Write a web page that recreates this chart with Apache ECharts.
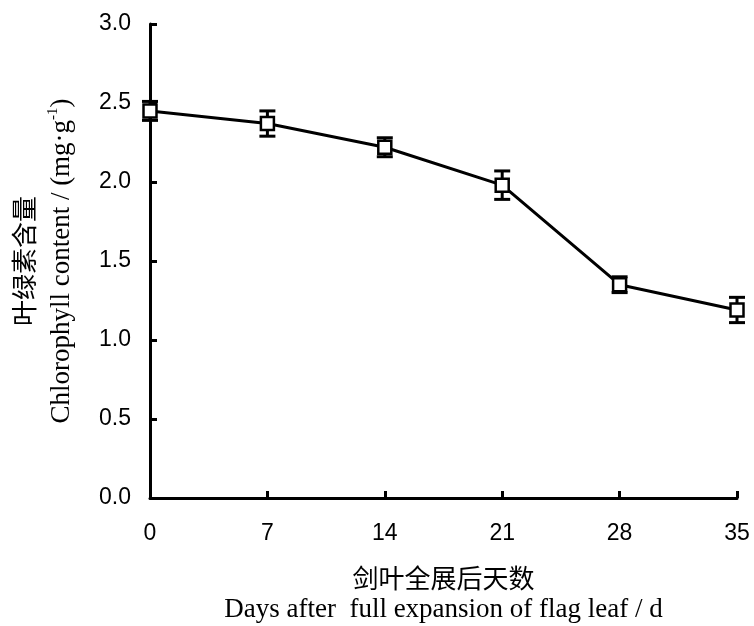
<!DOCTYPE html>
<html><head><meta charset="utf-8">
<script src="https://cdn.jsdelivr.net/npm/echarts@6/dist/echarts.min.js"></script>
<style>html,body{margin:0;padding:0;background:#fff}#c{width:754px;height:626px}</style>
</head><body><div id="c"></div>
<script>
const days = [0, 7, 14, 21, 28, 35];
const chlorophyll = [2.45, 2.37, 2.22, 1.98, 1.35, 1.19];
const errors = [0.06, 0.08, 0.06, 0.09, 0.05, 0.08];
const yTicks = ['0.0','0.5','1.0','1.5','2.0','2.5','3.0'];

const lineData = days.map((d, i) => [d, chlorophyll[i]]);
const errData = days.map((d, i) => [d, chlorophyll[i] - errors[i], chlorophyll[i] + errors[i]]);

const chart = echarts.init(document.getElementById('c'));
chart.setOption({
  animation: false,
  backgroundColor: '#fff',
  grid: { left: 150, right: 17, top: 24, bottom: 128, containLabel: false, outerBoundsMode: 'none' },
  xAxis: {
    type: 'value', min: 0, max: 35, interval: 7,
    axisLine: { lineStyle: { color: '#000', width: 3 } },
    axisTick: { inside: true, length: 7, lineStyle: { color: '#000', width: 3 } },
    axisLabel: { color: '#000', fontFamily: 'Liberation Sans', fontSize: 23, margin: 24 },
    splitLine: { show: false },
    name: '{cn|剑叶全展后天数}\n{en|Days after  full expansion of flag leaf / d}',
    nameLocation: 'middle', nameGap: 64,
    nameTextStyle: {
      rich: {
        cn: { fontFamily: 'Noto Sans CJK SC', fontSize: 26, color: '#000', lineHeight: 32 },
        en: { fontFamily: 'Liberation Serif', fontSize: 27, color: '#000', lineHeight: 32 }
      }
    }
  },
  yAxis: {
    type: 'value', min: 0, max: 3, interval: 0.5,
    axisLine: { show: true, lineStyle: { color: '#000', width: 3 } },
    axisTick: { show: true, inside: true, length: 7, lineStyle: { color: '#000', width: 3 } },
    axisLabel: { color: '#000', fontFamily: 'Liberation Sans', fontSize: 23, margin: 19,
      formatter: v => yTicks[Math.round(v / 0.5)] },
    splitLine: { show: false },
    name: '{cn|叶绿素含量}\n{en|Chlorophyll content / (mg·g}{sup|-1}{en|)}',
    nameLocation: 'middle', nameGap: 70, nameRotate: 90,
    nameTextStyle: {
      rich: {
        cn: { fontFamily: 'Noto Sans CJK SC', fontSize: 26, color: '#000', lineHeight: 37 },
        en: { fontFamily: 'Liberation Serif', fontSize: 27, color: '#000', lineHeight: 37 },
        sup: { fontFamily: 'Liberation Serif', fontSize: 15, color: '#000', padding: [0, 0, 16, 0] }
      }
    }
  },
  series: [
    {
      type: 'custom',
      data: errData,
      z: 3,
      renderItem: function (params, api) {
        const x = api.value(0);
        const lo = api.coord([x, api.value(1)]);
        const hi = api.coord([x, api.value(2)]);
        const w = 8;
        const st = { stroke: '#000', lineWidth: 3 };
        return {
          type: 'group',
          children: [
            { type: 'line', shape: { x1: lo[0], y1: lo[1], x2: hi[0], y2: hi[1] }, style: st },
            { type: 'line', shape: { x1: lo[0] - w, y1: lo[1], x2: lo[0] + w, y2: lo[1] }, style: st },
            { type: 'line', shape: { x1: hi[0] - w, y1: hi[1], x2: hi[0] + w, y2: hi[1] }, style: st }
          ]
        };
      }
    },
    {
      type: 'line',
      data: lineData,
      z: 5,
      lineStyle: { color: '#000', width: 3 },
      symbol: 'rect', symbolSize: 13,
      itemStyle: { color: '#fff', borderColor: '#000', borderWidth: 2.5 }
    }
  ]
});
</script></body></html>
